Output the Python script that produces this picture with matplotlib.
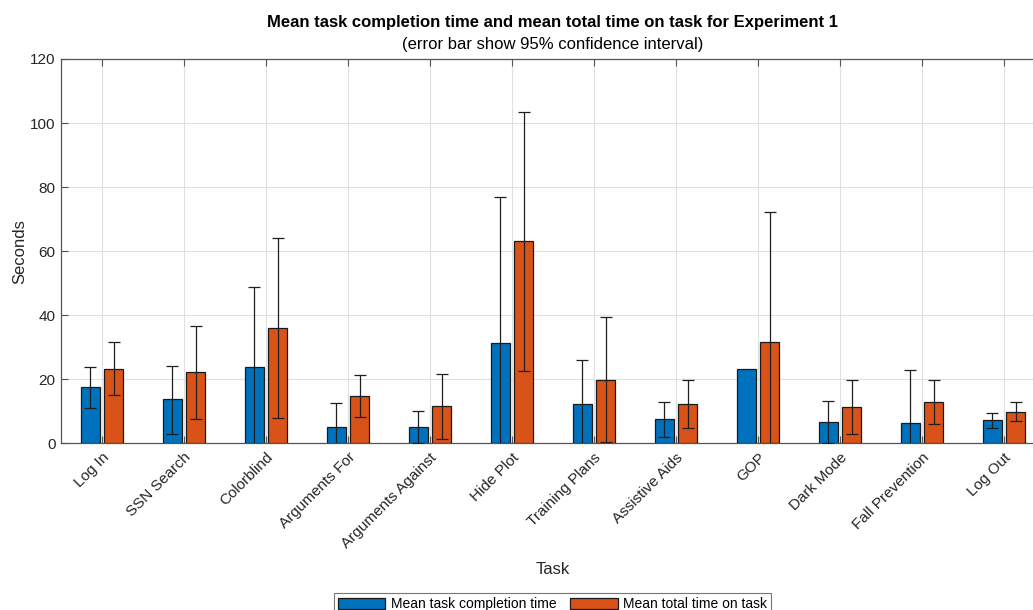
import numpy as np
import matplotlib
matplotlib.use("Agg")
import matplotlib.pyplot as plt
import matplotlib.transforms as mtransforms

plt.rcParams['font.family'] = ['Liberation Sans', 'DejaVu Sans']

tasks = ["Log In", "SSN Search", "Colorblind", "Arguments For", "Arguments Against",
         "Hide Plot", "Training Plans", "Assistive Aids", "GOP", "Dark Mode",
         "Fall Prevention", "Log Out"]

# Mean task completion time and its 95% CI bounds (seconds)
completion_mean = [17.5, 13.7, 23.9, 5.1, 5.1, 31.2, 12.2, 7.5, 23.1, 6.7, 6.2, 7.2]
completion_lo = [11.1, 2.8, -0.3, -0.3, 0.0, -0.3, -0.3, 2.1, np.nan, 0.2, -0.3, 4.9]
completion_hi = [23.9, 24.2, 48.7, 12.5, 10.2, 76.8, 25.9, 12.9, np.nan, 13.1, 22.8, 9.4]

# Mean total time on task and its 95% CI bounds (seconds)
total_mean = [23.3, 22.3, 35.9, 14.8, 11.6, 63.2, 19.9, 12.2, 31.5, 11.2, 12.8, 9.9]
total_lo = [15.0, 7.6, 7.9, 8.3, 1.4, 22.6, 0.5, 4.7, -0.3, 2.8, 5.9, 6.9]
total_hi = [31.5, 36.7, 64.1, 21.2, 21.7, 103.5, 39.4, 19.9, 72.1, 19.9, 19.9, 12.9]

blue = '#0072BD'
orange = '#D95319'
text_col = '#262626'

fig = plt.figure(figsize=(10.33, 6.10), dpi=100)
ax = fig.add_axes([61 / 1033, 1 - 443.3 / 610, 984 / 1033, 384.3 / 610])

x = np.arange(1, len(tasks) + 1)
w = 0.23
off = 0.143

b1 = ax.bar(x - off, completion_mean, w, color=blue, edgecolor='#1a1a1a', linewidth=0.9,
            label='Mean task completion time', zorder=3)
b2 = ax.bar(x + off, total_mean, w, color=orange, edgecolor='#1a1a1a', linewidth=0.9,
            label='Mean total time on task', zorder=3)

def draw_err(xs, mean, lo, hi):
    mean = np.array(mean, float)
    lo = np.array(lo, float)
    hi = np.array(hi, float)
    ok = ~np.isnan(lo)
    yerr = np.vstack([mean[ok] - lo[ok], hi[ok] - mean[ok]])
    ax.errorbar(xs[ok], mean[ok], yerr=yerr, fmt='none', ecolor='#1f1f1f',
                elinewidth=0.9, capsize=4.5, capthick=0.9, zorder=4)

draw_err(x - off, completion_mean, completion_lo, completion_hi)
draw_err(x + off, total_mean, total_lo, total_hi)

ax.set_xlim(0.5, 12.5)
ax.set_ylim(0, 120)
ax.set_yticks(np.arange(0, 121, 20))
ax.set_xticks(x)
ax.set_xticklabels(tasks, rotation=45, ha='right', rotation_mode='anchor')
shift = mtransforms.ScaledTranslation(6 / 100, 2 / 100, fig.dpi_scale_trans)
for lbl in ax.get_xticklabels():
    lbl.set_transform(lbl.get_transform() + shift)
ax.grid(True, color='#e0e0e0', linewidth=0.8, zorder=0)
ax.set_axisbelow(True)
ax.tick_params(direction='in', length=5, width=0.8, color='#555555',
               labelsize=11, labelcolor=text_col, top=True)
ax.tick_params(axis='x', pad=5)
ax.tick_params(axis='y', pad=4)
for s in ax.spines.values():
    s.set_color('#555555')
    s.set_linewidth(0.9)

ax.set_ylabel('Seconds', fontsize=12, color=text_col, labelpad=2)
ax.set_xlabel('Task', fontsize=12, color=text_col, labelpad=8)

fig.text(0.535, 1 - 22 / 610, 'Mean task completion time and mean total time on task for Experiment 1',
         ha='center', va='center', fontsize=12, fontweight='bold', color='black')
fig.text(0.535, 1 - 45 / 610, '(error bar show 95% confidence interval)',
         ha='center', va='center', fontsize=12, color='black')

leg = fig.legend(handles=[b1, b2], loc='upper center', bbox_to_anchor=(0.535, 1 - 593 / 610),
                 ncol=2, fontsize=10, frameon=True, fancybox=False, handlelength=3.4,
                 handleheight=0.9, handletextpad=0.4, columnspacing=1.0, borderpad=0.3,
                 borderaxespad=0)
leg.get_frame().set_edgecolor('#555555')
leg.get_frame().set_linewidth(0.8)

fig.savefig('out.png', dpi=100)
